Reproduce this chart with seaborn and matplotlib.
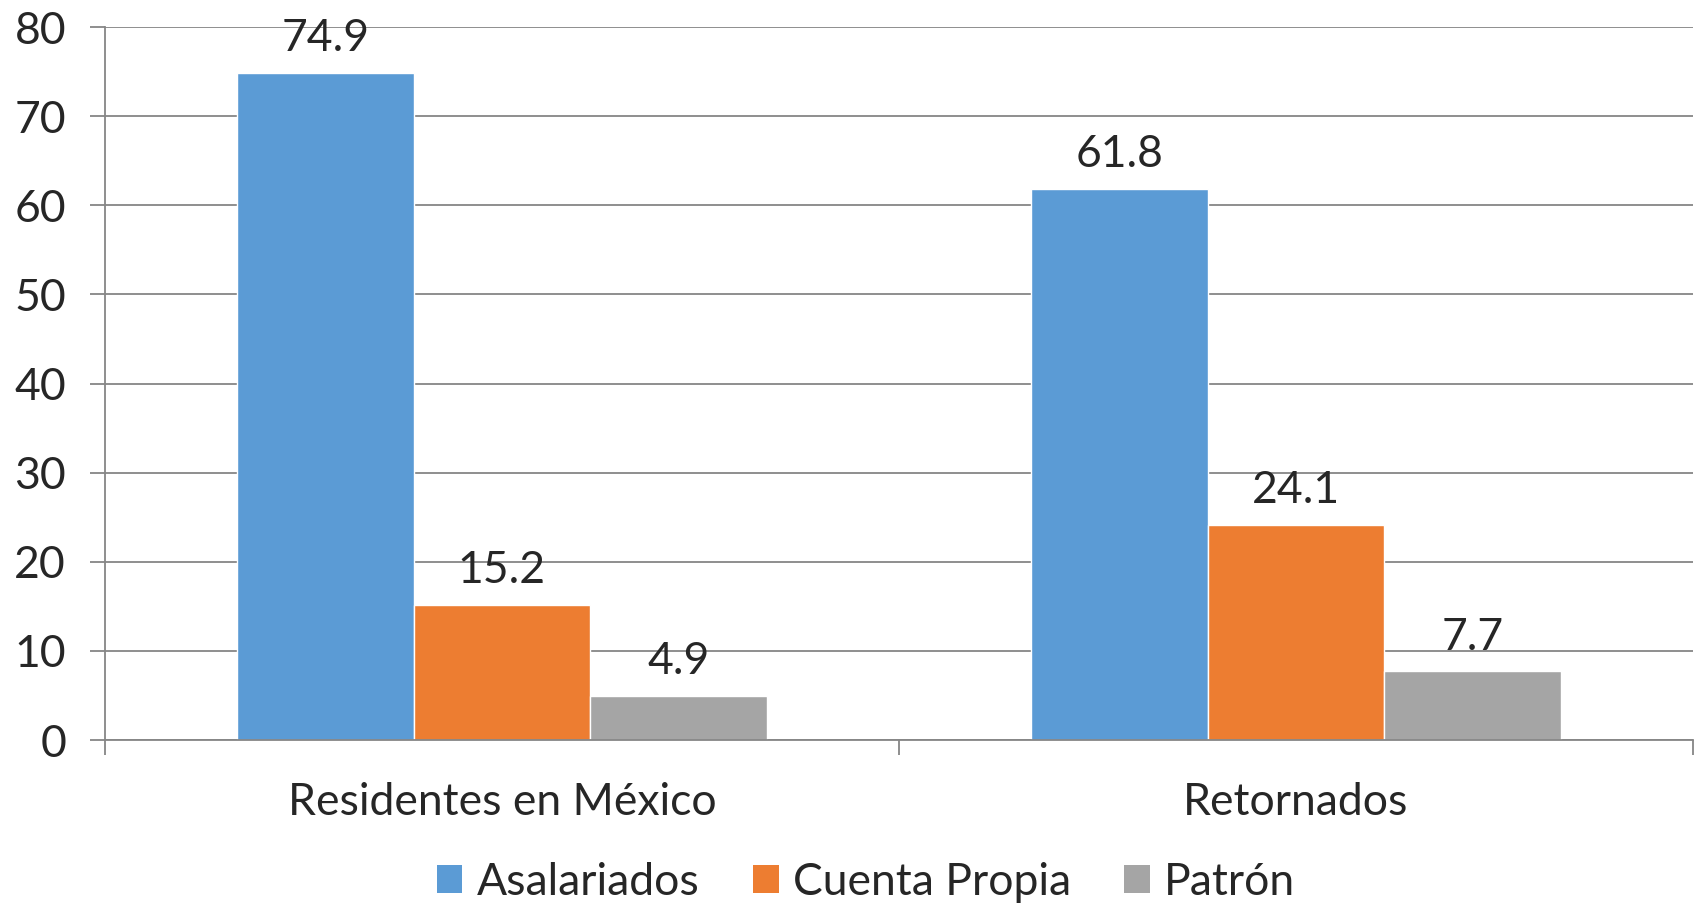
import pandas as pd
import numpy as np
import matplotlib
matplotlib.use('Agg')
import matplotlib.pyplot as plt
import seaborn as sns
from matplotlib.patches import Patch

# datos
grupos = ['Residentes en México', 'Retornados']
series = ['Asalariados', 'Cuenta Propia', 'Patrón']
asalariados = [74.9, 61.8]
cuenta_propia = [15.2, 24.1]
patron = [4.9, 7.7]
colores = ['#5B9BD5', '#ED7D31', '#A5A5A5']

df = pd.DataFrame({
    'grupo': grupos * 3,
    'tipo': [series[0]] * 2 + [series[1]] * 2 + [series[2]] * 2,
    'valor': asalariados + cuenta_propia + patron,
})

sns.set_style('white')
plt.rcParams['font.family'] = ['Lato', 'DejaVu Sans']

fig = plt.figure(figsize=(16.98, 9.05), dpi=100)
ax = fig.add_axes([0.0618, 0.1823, 0.9352, 0.7878])

sns.barplot(data=df, x='grupo', y='valor', hue='tipo', order=grupos,
            hue_order=series, palette=colores, width=0.667, saturation=1,
            edgecolor='white', linewidth=1, legend=False, ax=ax)

# etiquetas de valor
for cont in ax.containers:
    ax.bar_label(cont, fmt='%.1f', padding=10, fontsize=32)

ax.set_ylim(0, 80)
ax.set_xlim(-0.5, 1.5)
ax.set_yticks(np.arange(0, 81, 10))
ax.yaxis.grid(True, color='#868686', linewidth=1.3)
ax.set_axisbelow(True)
for s in ['top', 'right']:
    ax.spines[s].set_visible(False)
ax.spines['left'].set_color('#868686')
ax.spines['bottom'].set_color('#868686')
ax.spines['left'].set_linewidth(1.3)
ax.spines['bottom'].set_linewidth(1.3)

ax.tick_params(axis='y', left=True, length=11, width=1.3, color='#868686',
               pad=17, labelsize=32)
ax.tick_params(axis='x', which='major', bottom=True, length=0, pad=30,
               labelsize=32)
ax.set_xticks([-0.5, 0.5, 1.5], minor=True)
ax.tick_params(axis='x', which='minor', bottom=True, length=11, width=1.3,
               color='#868686')
ax.set_xlabel('')
ax.set_ylabel('')

handles = [Patch(facecolor=c, edgecolor='none') for c in colores]
fig.legend(handles, series, loc='center', bbox_to_anchor=(0.51, 0.025),
           ncol=3, frameon=False, fontsize=32, handlelength=0.58,
           handleheight=0.58, handletextpad=0.32, columnspacing=1.2)

fig.savefig('out.png', dpi=100)
